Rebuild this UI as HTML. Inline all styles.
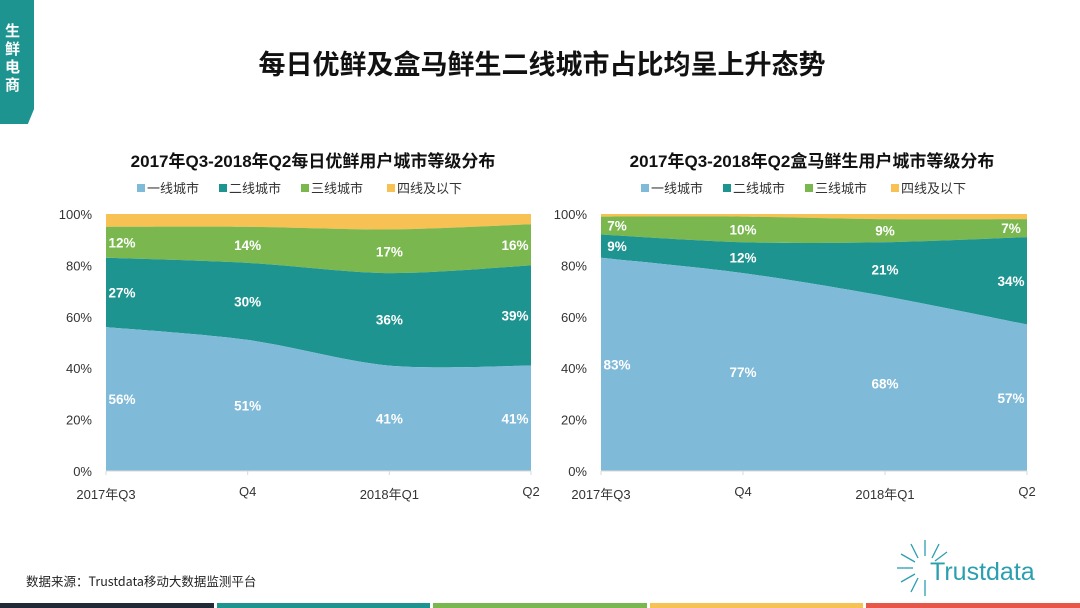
<!DOCTYPE html>
<html><head><meta charset="utf-8">
<style>
body{margin:0;width:1080px;height:608px;background:#fff;position:relative;overflow:hidden;font-family:"Liberation Sans","Noto Sans CJK SC",sans-serif;}
.abs{position:absolute}
</style></head>
<body>
<div class="abs" style="left:0;top:0;width:34px;height:124px;background:#1e9490;clip-path:polygon(0 0,100% 0,100% 88%,82% 100%,0 100%);"></div>
<div class="abs" style="left:5px;top:22px;width:20px;color:#fff;font-weight:bold;font-size:15px;line-height:18px;font-family:'Noto Sans CJK SC',sans-serif;">生<br>鲜<br>电<br>商</div>
<div class="abs" style="left:0;width:1084px;top:43px;text-align:center;font-size:27px;font-weight:bold;color:#111;font-family:'Noto Sans CJK SC',sans-serif;">每日优鲜及盒马鲜生二线城市占比均呈上升态势</div>
<svg id="svg" class="abs" style="left:0;top:0" width="1080" height="608"></svg>
<div class="abs" style="left:26px;top:571px;font-size:12.5px;color:#222;font-family:'Noto Sans CJK SC',sans-serif;">数据来源：Trustdata移动大数据监测平台</div>
<div class="abs" style="left:930px;top:558px;font-size:25px;color:#2a9fb0;">Trustdata</div>
<svg class="abs" style="left:895px;top:538px" width="60" height="60">
<g stroke="#2a9fb0" stroke-width="1.3">
<line x1="30" y1="2" x2="30" y2="18"/><line x1="44" y1="6" x2="37" y2="20"/><line x1="16" y1="6" x2="23" y2="20"/><line x1="6" y1="16" x2="20" y2="24"/><line x1="2" y1="30" x2="18" y2="30"/><line x1="6" y1="44" x2="20" y2="36"/><line x1="16" y1="54" x2="23" y2="40"/><line x1="30" y1="58" x2="30" y2="42"/><line x1="52" y1="14" x2="40" y2="23"/>
</g></svg>
<div class="abs" style="left:0;top:603px;width:1080px;height:5px;display:flex;gap:3px;">
<div style="flex:1;background:#1f2a36"></div><div style="flex:1;background:#1e9490"></div><div style="flex:1;background:#7ab84f"></div><div style="flex:1;background:#f8c153"></div><div style="flex:1;background:#e8564a"></div></div>
<script>
const categories=["2017年Q3","Q4","2018年Q1","Q2"];
const seriesNames=["一线城市","二线城市","三线城市","四线及以下"];
const colors=["#7fbad8","#1e9490","#7ab84f","#f8c153"];
const yTicks=[0,20,40,60,80,100];
const leftTitle="2017年Q3-2018年Q2每日优鲜用户城市等级分布";
const leftTier1=[56,51,41,41];
const leftTier2=[27,30,36,39];
const leftTier3=[12,14,17,16];
const leftTier4=[5,5,6,4];
const rightTitle="2017年Q3-2018年Q2盒马鲜生用户城市等级分布";
const rightTier1=[83,77,68,57];
const rightTier2=[9,12,21,34];
const rightTier3=[7,10,9,7];
const rightTier4=[1,1,2,2];
const NS="http://www.w3.org/2000/svg";
const svg=document.getElementById('svg');
function mk(tag,attrs,parent){const e=document.createElementNS(NS,tag);for(const k in attrs)e.setAttribute(k,attrs[k]);(parent||svg).appendChild(e);return e;}
function curve(pts){let d="";for(let i=0;i<pts.length-1;i++){const p0=pts[Math.max(i-1,0)],p1=pts[i],p2=pts[i+1],p3=pts[Math.min(i+2,pts.length-1)];const t=0.15;
const c1=[p1[0]+(p2[0]-p0[0])*t,p1[1]+(p2[1]-p0[1])*t],c2=[p2[0]-(p3[0]-p1[0])*t,p2[1]-(p3[1]-p1[1])*t];d+=` C${c1[0]},${c1[1]} ${c2[0]},${c2[1]} ${p2[0]},${p2[1]}`;}return d;}
function chart(x0,x1,title,data,cx,legendX,name){
  const yT=214,yB=471;
  const X=i=>x0+(x1-x0)*i/(categories.length-1);
  const Y=v=>yB-(yB-yT)*v/100;
  const g=mk('g',{});
  
  
  const t=mk('text',{x:cx,y:167,'text-anchor':'middle','font-size':17,'font-weight':'bold',fill:'#111','font-family':'Liberation Sans,Noto Sans CJK SC,sans-serif'},g);t.textContent=title;
  
  let lx=legendX;
  seriesNames.forEach((s,k)=>{
    const r=mk('rect',{x:lx,y:184,width:8,height:8,fill:colors[k]},g);
    
    const lt=mk('text',{x:lx+10,y:193,'font-size':13,fill:'#333','font-family':'Noto Sans CJK SC,sans-serif'},g);lt.textContent=s;
    
    lx+=k==2?86:82;
  });
  yTicks.forEach(v=>{const tt=mk('text',{x:x0-14,y:Y(v)+5,'text-anchor':'end','font-size':13,fill:'#333'},g);tt.textContent=v+'%';
    });
  const cum=[];let base=[0,0,0,0];
  data.forEach(s=>{const top=base.map((b,i)=>b+s[i]);cum.push([base,top]);base=top;});
  for(let k=data.length-1;k>=0;k--){
    const top=cum[k][1].map((v,i)=>[X(i),Y(v)]);
    const bot=cum[k][0].map((v,i)=>[X(i),Y(v)]).reverse();
    const d=`M${top[0][0]},${top[0][1]}`+curve(top)+` L${bot[0][0]},${bot[0][1]}`+curve(bot)+'Z';
    const p=mk('path',{d:d,fill:colors[k]},g);
    
  }
  for(let k=0;k<3;k++){
    data[k].forEach((v,i)=>{
      let x=X(i);if(i==0)x+=16;if(i==categories.length-1)x-=16;
      const y=(Y(cum[k][0][i])+Y(cum[k][1][i]))/2+5;
      const lb=mk('text',{x:x,y:y,'text-anchor':'middle','font-size':13.5,'font-weight':'bold',fill:'#fff'},g);lb.textContent=v+'%';
      
    });
  }
  mk('line',{x1:x0,y1:yB,x2:x1,y2:yB,stroke:'#d9d9d9'},g);
  categories.forEach((c,i)=>{
    mk('line',{x1:X(i),y1:yB,x2:X(i),y2:yB+4,stroke:'#d9d9d9'},g);
    const xt=mk('text',{x:X(i),y:i%2?496:499,'text-anchor':'middle','font-size':13,fill:'#333','font-family':'Liberation Sans,Noto Sans CJK SC,sans-serif'},g);xt.textContent=c;
    
  });
}
chart(106,531,leftTitle,[leftTier1,leftTier2,leftTier3,leftTier4],313,137,'left-chart');
chart(601,1027,rightTitle,[rightTier1,rightTier2,rightTier3,rightTier4],812,641,'right-chart');
</script>
</body></html>
